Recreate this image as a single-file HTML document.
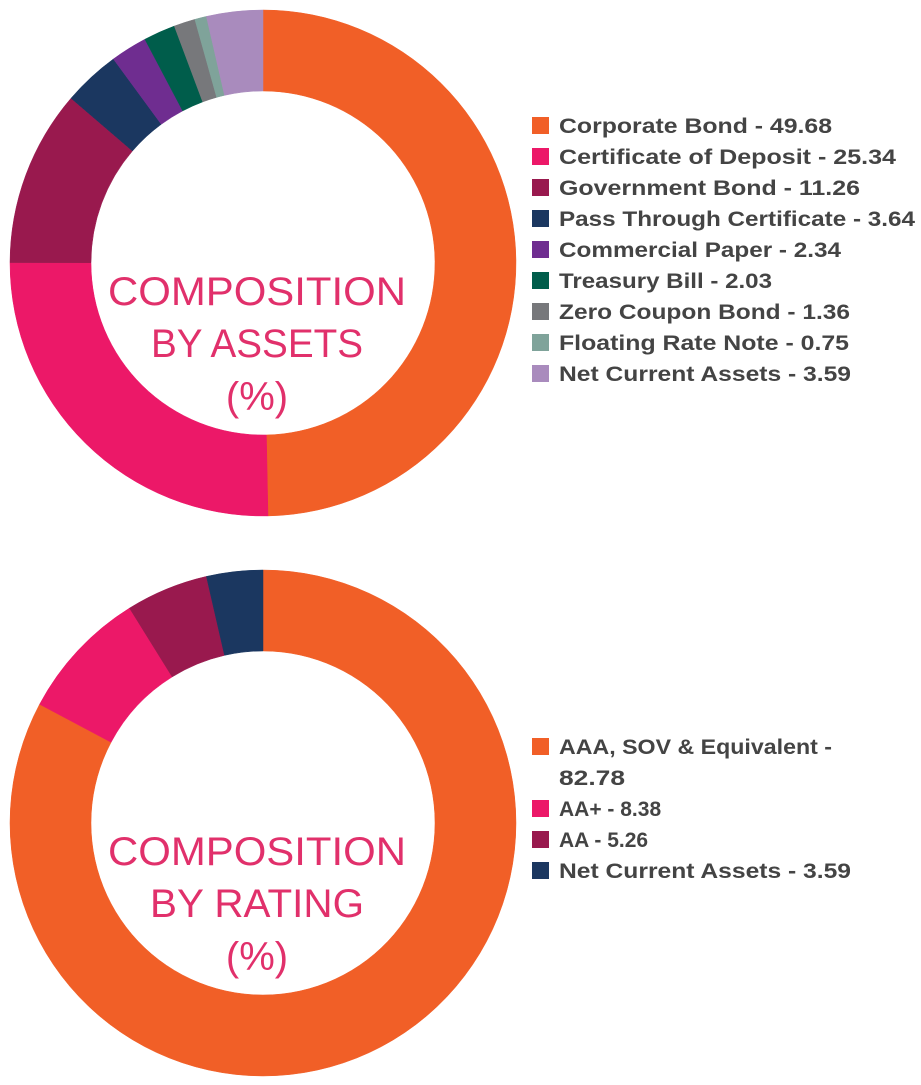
<!DOCTYPE html>
<html><head><meta charset="utf-8"><style>
html,body{margin:0;padding:0;background:#fff;width:921px;height:1085px;overflow:hidden}
text{font-family:"Liberation Sans",sans-serif}
</style></head><body>
<svg id="s" width="921" height="1085" xmlns="http://www.w3.org/2000/svg">
<g id="d1"></g><g id="d2"></g>
<g font-size="40" fill="#E1306B" text-anchor="middle">
<text x="257" y="305" textLength="298" lengthAdjust="spacingAndGlyphs">COMPOSITION</text>
<text x="257" y="357" textLength="212" lengthAdjust="spacingAndGlyphs">BY ASSETS</text>
<text x="257" y="410">(%)</text>
<text x="257" y="865" textLength="298" lengthAdjust="spacingAndGlyphs">COMPOSITION</text>
<text x="257" y="917" textLength="214" lengthAdjust="spacingAndGlyphs">BY RATING</text>
<text x="257" y="970">(%)</text>
</g>
<g id="leg" font-size="21" font-weight="bold" fill="#444"></g>
</svg>
<script>
var NS="http://www.w3.org/2000/svg";
function donut(g,cx,cy,R,r,data){
  var tot=data.reduce(function(a,b){return a+b[0]},0),a0=0;
  data.forEach(function(d){
    var a1=a0+d[0]/tot*2*Math.PI;
    var p=function(rad,a){return [cx+rad*Math.sin(a),cy-rad*Math.cos(a)]};
    var L=(a1-a0)>Math.PI?1:0;
    var A=p(R,a0),B=p(R,a1),C=p(r,a1),D=p(r,a0);
    var e=document.createElementNS(NS,"path");
    e.setAttribute("d","M"+A+"A"+R+","+R+" 0 "+L+" 1 "+B+"L"+C+"A"+r+","+r+" 0 "+L+" 0 "+D+"Z");
    e.setAttribute("fill",d[1]);e.setAttribute("stroke",d[1]);e.setAttribute("stroke-width","0.5");
    document.getElementById(g).appendChild(e);a0=a1;
  });
}
var c={o:"#F15F27",p:"#EC1868",m:"#99194E",n:"#1B3760",pu:"#6F2D90",g:"#005D4B",gr:"#77787B",t:"#7FA39A",l:"#A98BBD"};
donut("d1",263,263,253,172,[[49.68,c.o],[25.34,c.p],[11.26,c.m],[3.64,c.n],[2.34,c.pu],[2.03,c.g],[1.36,c.gr],[0.75,c.t],[3.59,c.l]]);
donut("d2",263,823,253,172,[[82.78,c.o],[8.38,c.p],[5.26,c.m],[3.59,c.n]]);
var leg=document.getElementById("leg");
function item(y,col,txt,w){
  if(col){var r=document.createElementNS(NS,"rect");r.setAttribute("x",532);r.setAttribute("y",y-8);r.setAttribute("width",17);r.setAttribute("height",17);r.setAttribute("fill",col);leg.appendChild(r);}
  var t=document.createElementNS(NS,"text");t.setAttribute("x",559);t.setAttribute("y",y+8);
  if(w){t.setAttribute("textLength",w);t.setAttribute("lengthAdjust","spacingAndGlyphs");}
  t.textContent=txt;leg.appendChild(t);
}
var L1=[[c.o,"Corporate Bond - 49.68",273],[c.p,"Certificate of Deposit - 25.34",337],[c.m,"Government Bond - 11.26",301],[c.n,"Pass Through Certificate - 3.64",356],[c.pu,"Commercial Paper - 2.34",282],[c.g,"Treasury Bill - 2.03",213],[c.gr,"Zero Coupon Bond - 1.36",291],[c.t,"Floating Rate Note - 0.75",290],[c.l,"Net Current Assets - 3.59",292]];
L1.forEach(function(d,i){item(125+i*31,d[0],d[1],d[2]);});
item(746,c.o,"AAA, SOV & Equivalent -",273);
item(777,null,"82.78",66);
item(808,c.p,"AA+ - 8.38");
item(839,c.m,"AA - 5.26");
item(870,c.n,"Net Current Assets - 3.59",292);
</script>
</body></html>
